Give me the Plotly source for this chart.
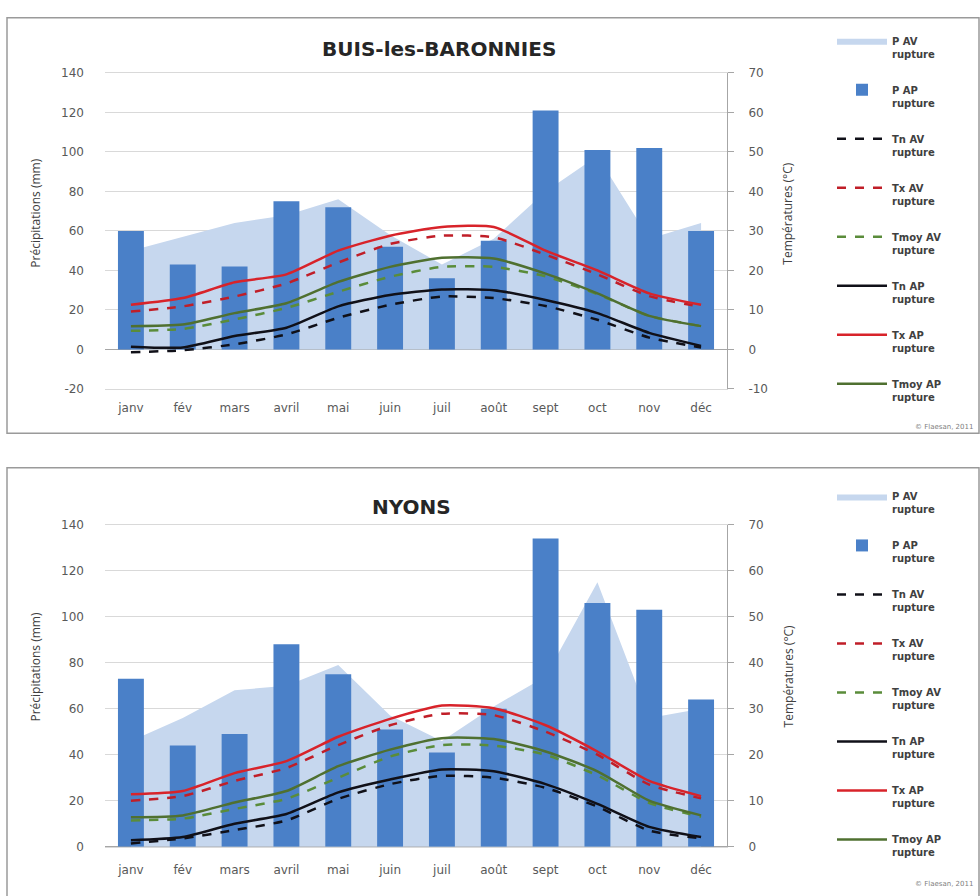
import plotly.graph_objects as go

months = ["janv", "fév", "mars", "avril", "mai", "juin", "juil", "août", "sept", "oct", "nov", "déc"]

# BUIS-les-BARONNIES
p_av_buis = [50, 57, 64, 68, 76, 58, 43, 56, 80, 98, 56, 64]
p_ap_buis = [60, 43, 42, 75, 72, 52, 36, 55, 121, 101, 102, 60]
tn_av_buis = [-0.7, -0.2, 1.3, 3.8, 8.0, 11.3, 13.4, 13.0, 11.0, 7.5, 3.0, 0.5]
tx_av_buis = [9.6, 10.9, 13.4, 16.7, 22.0, 26.7, 28.8, 28.4, 24.0, 19.0, 13.5, 10.8]
tmoy_av_buis = [4.7, 5.2, 7.6, 10.5, 14.6, 18.4, 20.9, 20.9, 18.5, 14.0, 8.5, 5.9]
tn_ap_buis = [0.7, 0.5, 3.4, 5.5, 10.9, 13.8, 15.2, 15.0, 12.5, 9.2, 4.2, 0.9]
tx_ap_buis = [11.3, 13.0, 17.0, 19.0, 25.0, 28.8, 31.0, 31.0, 25.0, 20.0, 14.2, 11.3]
tmoy_ap_buis = [5.9, 6.3, 9.2, 11.7, 17.1, 20.9, 23.2, 23.0, 19.2, 14.2, 8.5, 5.9]

# NYONS
p_av_nyons = [46, 56, 68, 70, 79, 57, 46, 61, 74, 115, 56, 60]
p_ap_nyons = [73, 44, 49, 88, 75, 51, 41, 60, 134, 106, 103, 64]
tn_av_nyons = [0.7, 1.8, 3.6, 5.7, 10.4, 13.6, 15.4, 15.0, 12.8, 8.7, 3.5, 1.8]
tx_av_nyons = [10.0, 11.0, 14.3, 17.1, 22.1, 26.4, 28.9, 28.6, 25.0, 20.0, 13.5, 10.5]
tmoy_av_nyons = [5.7, 6.1, 8.2, 10.4, 15.0, 19.6, 22.1, 22.0, 20.0, 15.5, 9.5, 6.5]
tn_ap_nyons = [1.4, 2.1, 5.0, 7.1, 11.8, 14.6, 16.8, 16.4, 13.6, 9.3, 4.3, 2.1]
tx_ap_nyons = [11.4, 12.1, 16.0, 18.6, 23.9, 27.8, 30.7, 30.1, 26.4, 20.7, 14.3, 11.0]
tmoy_ap_nyons = [6.4, 6.8, 9.6, 12.1, 17.5, 21.1, 23.6, 23.4, 20.7, 16.4, 10.0, 6.8]

# axis tick labels
precip_ticks_top = [-20, 0, 20, 40, 60, 80, 100, 120, 140]
temp_ticks_top = [-10, 0, 10, 20, 30, 40, 50, 60, 70]
precip_ticks_bot = [0, 20, 40, 60, 80, 100, 120, 140]
temp_ticks_bot = [0, 10, 20, 30, 40, 50, 60, 70]

W, H = 980, 896
def px(x): return x / W
def py(y): return 1 - y / H

C_AREA = "#c6d7ee"
C_BAR = "#4a80c8"
C_TN = "#101018"
C_TX_AP = "#d8232a"
C_TX_AV = "#c01e28"
C_TM_AP = "#4f7030"
C_TM_AV = "#5a8c3a"

TICKFONT = dict(family="DejaVu Sans", size=12, color="#595959")

fig = go.Figure()

def add_station(tag, xa, ya_main, ya_bar, ya_temp, legend, p_av, p_ap, tn_av, tx_av, tm_av, tn_ap, tx_ap, tm_ap):
    fig.add_trace(go.Scatter(x=months, y=p_av, name="P AV<br>rupture", mode="lines",
                             fill="tozeroy", fillcolor=C_AREA, line=dict(width=0, color=C_AREA),
                             xaxis=xa, yaxis=ya_main, legend=legend, legendgroup=tag + "1"))
    fig.add_trace(go.Bar(x=months, y=p_ap, name="P AP<br>rupture", marker=dict(color=C_BAR, line=dict(width=0)),
                         xaxis=xa, yaxis=ya_bar, legend=legend, legendgroup=tag + "2"))
    specs = [
        (tn_av, "Tn AV<br>rupture", C_TN, "dash"),
        (tx_av, "Tx AV<br>rupture", C_TX_AV, "dash"),
        (tm_av, "Tmoy AV<br>rupture", C_TM_AV, "dash"),
        (tn_ap, "Tn AP<br>rupture", C_TN, "solid"),
        (tx_ap, "Tx AP<br>rupture", C_TX_AP, "solid"),
        (tm_ap, "Tmoy AP<br>rupture", C_TM_AP, "solid"),
    ]
    for i, (vals, name, col, dash) in enumerate(specs):
        fig.add_trace(go.Scatter(x=months, y=vals, name=name, mode="lines",
                                 line=dict(color=col, width=2.5, dash=dash, shape="spline", smoothing=0.6),
                                 xaxis=xa, yaxis=ya_temp, legend=legend, legendgroup=tag + str(i + 3)))

add_station("b", "x", "y", "y2", "y3", "legend",
            p_av_buis, p_ap_buis, tn_av_buis, tx_av_buis, tmoy_av_buis, tn_ap_buis, tx_ap_buis, tmoy_ap_buis)
add_station("n", "x2", "y4", "y5", "y6", "legend2",
            p_av_nyons, p_ap_nyons, tn_av_nyons, tx_av_nyons, tmoy_av_nyons, tn_ap_nyons, tx_ap_nyons, tmoy_ap_nyons)

xdom = [px(105), px(727)]
top_dom = [py(388), py(67)]
bot_dom = [py(853), py(526)]

def xaxis_cfg(anchor, standoff):
    return dict(domain=xdom, anchor=anchor, type="category", showgrid=False,
                showline=True, linecolor="#d9d9d9", mirror=True, ticks="",
                tickfont=dict(family="DejaVu Sans", size=12, color="#595959"),
                ticklabelstandoff=standoff, fixedrange=True)

def main_y(dom, rng, anchor, ticks):
    return dict(domain=dom, anchor=anchor, range=rng, tickvals=ticks, ticktext=[str(t) for t in ticks],
                showgrid=True, gridcolor="#d9d9d9",
                zeroline=True, zerolinecolor="#a6a6a6", zerolinewidth=1,
                showline=False, ticks="", tickfont=TICKFONT, ticklabelstandoff=20)

def bar_y(main, rng, anchor):
    return dict(overlaying=main, anchor=anchor, range=rng, visible=False, showgrid=False, zeroline=False)

def temp_y(main, rng, anchor, ticks):
    return dict(overlaying=main, anchor=anchor, side="right", range=rng,
                tickvals=ticks, ticktext=[str(t) for t in ticks], showgrid=False,
                zeroline=False, showline=True, linecolor="#a6a6a6", ticks="outside", ticklen=6,
                tickcolor="#a6a6a6", tickfont=TICKFONT, ticklabelstandoff=12)

legend_common = dict(xanchor="left", yanchor="top", bgcolor="rgba(0,0,0,0)", valign="top",
                     tracegroupgap=20, itemwidth=50,
                     font=dict(family="DejaVu Sans", size=10, color="#404040", weight="bold"))

fig.update_layout(
    width=W, height=H,
    margin=dict(l=0, r=0, t=0, b=0),
    paper_bgcolor="white", plot_bgcolor="white",
    bargap=0.5,
    xaxis=xaxis_cfg("y", 8),
    yaxis=main_y(top_dom, [-20, 140], "x", precip_ticks_top),
    yaxis2=bar_y("y", [-20, 140], "x"),
    yaxis3=temp_y("y", [-10, 70], "x", temp_ticks_top),
    xaxis2=xaxis_cfg("y4", 12),
    yaxis4=main_y(bot_dom, [0, 140], "x2", precip_ticks_bot),
    yaxis5=bar_y("y4", [0, 140], "x2"),
    yaxis6=temp_y("y4", [0, 70], "x2", temp_ticks_bot),
    legend=dict(x=px(832), y=py(21), **legend_common),
    legend2=dict(x=px(832), y=py(484), **legend_common),
    showlegend=True,
)

# frames around each chart
fig.add_shape(type="rect", xref="paper", yref="paper", x0=px(7), x1=px(979), y0=py(433), y1=py(11),
              line=dict(color="#9a9a9a", width=1.5), fillcolor="rgba(0,0,0,0)", layer="below")
fig.add_shape(type="rect", xref="paper", yref="paper", x0=px(7), x1=px(979), y0=py(905), y1=py(468),
              line=dict(color="#9a9a9a", width=1.5), fillcolor="rgba(0,0,0,0)", layer="below")

ann = []
title_font = dict(family="DejaVu Sans", size=20, color="#262626", weight="bold")
ann.append(dict(text="BUIS-les-BARONNIES", x=px(439), y=py(43), xref="paper", yref="paper",
                showarrow=False, font=title_font, xanchor="center", yanchor="middle"))
ann.append(dict(text="NYONS", x=px(411), y=py(508), xref="paper", yref="paper",
                showarrow=False, font=title_font, xanchor="center", yanchor="middle"))
axis_title_font = dict(family="Open Sans", size=12, color="#404040")
for yc_l, yc_r in [(210, 210), (671, 680)]:
    ann.append(dict(text="Précipitations (mm)", x=px(36), y=py(yc_l), xref="paper", yref="paper",
                    showarrow=False, textangle=-90, font=axis_title_font, xanchor="center", yanchor="middle"))
    ann.append(dict(text="Températures (°C)", x=px(788), y=py(yc_r), xref="paper", yref="paper",
                    showarrow=False, textangle=-90, font=axis_title_font, xanchor="center", yanchor="middle"))
for yc in [427, 891]:
    ann.append(dict(text="© Flaesan, 2011", x=px(975), y=py(yc), xref="paper", yref="paper",
                    showarrow=False, font=dict(family="DejaVu Sans", size=7, color="#808080"),
                    xanchor="right", yanchor="middle"))
fig.update_layout(annotations=ann)

fig.write_html("out.html", config={"displayModeBar": False},
               post_script="document.body.style.margin='0';document.body.style.overflow='hidden';")
